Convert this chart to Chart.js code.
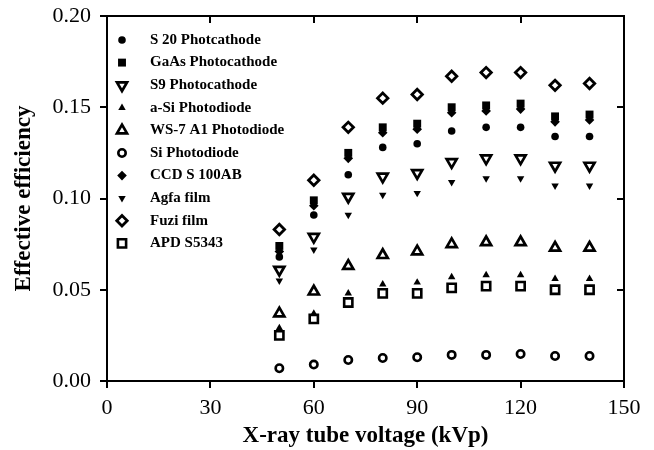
<!DOCTYPE html>
<html>
<head>
<meta charset="utf-8">
<script src="https://cdn.jsdelivr.net/npm/chart.js@4/dist/chart.umd.min.js"></script>
<style>
html,body{margin:0;padding:0;background:#fff;}
canvas{display:block;}
</style>
</head>
<body>
<canvas id="c" width="654" height="450"></canvas>
<script>
// ---- data ----
const voltages = [50, 60, 70, 80, 90, 100, 110, 120, 130, 140];
const seriesNames = ["S 20 Photcathode", "GaAs Photocathode", "S9 Photocathode", "a-Si Photodiode",
  "WS-7 A1 Photodiode", "Si Photodiode", "CCD S 100AB", "Agfa film", "Fuzi film", "APD S5343"];
const s20  = [0.068, 0.091, 0.113, 0.128, 0.130, 0.137, 0.139, 0.139, 0.134, 0.134];
const gaas = [0.074, 0.099, 0.125, 0.139, 0.141, 0.150, 0.151, 0.152, 0.145, 0.146];
const s9   = [0.061, 0.079, 0.101, 0.112, 0.114, 0.120, 0.122, 0.122, 0.118, 0.118];
const aSi  = [0.029, 0.037, 0.048, 0.053, 0.054, 0.057, 0.058, 0.058, 0.056, 0.056];
const ws7  = [0.037, 0.049, 0.063, 0.069, 0.071, 0.075, 0.076, 0.076, 0.073, 0.073];
const siPd = [0.007, 0.009, 0.0115, 0.0126, 0.013, 0.0143, 0.0143, 0.0148, 0.0137, 0.0137];
const ccd  = [0.071, 0.096, 0.122, 0.136, 0.138, 0.147, 0.148, 0.149, 0.142, 0.143];
const agfa = [0.055, 0.072, 0.091, 0.102, 0.103, 0.109, 0.111, 0.111, 0.107, 0.107];
const fuzi = [0.083, 0.110, 0.139, 0.155, 0.157, 0.167, 0.169, 0.169, 0.162, 0.163];
const apd  = [0.025, 0.034, 0.043, 0.048, 0.048, 0.051, 0.052, 0.052, 0.050, 0.050];
const xTicks = [0, 30, 60, 90, 120, 150];
const yTicks = [0.00, 0.05, 0.10, 0.15, 0.20];

const seriesValues = [s20, gaas, s9, aSi, ws7, siPd, ccd, agfa, fuzi, apd];
// marker styles: [pointStyle, radius, rotation, filled, borderWidth]
const styles = [
  ['circle', 3.8, 0, true, 0],
  ['rect', 5.6, 0, true, 0],
  ['triangle', 5.8, 180, false, 2.7],
  ['triangle', 4.3, 0, true, 0],
  ['triangle', 5.8, 0, false, 2.7],
  ['circle', 3.7, 0, false, 2.6],
  ['rectRot', 4.8, 0, true, 0],
  ['triangle', 4.3, 180, true, 0],
  ['rectRot', 5.2, 0, false, 2.8],
  ['rect', 5.8, 0, false, 2.6]
];

const datasets = seriesNames.map((name, i) => {
  const st = styles[i];
  return {
    label: name,
    data: voltages.map((v, j) => ({x: v, y: seriesValues[i][j]})),
    pointStyle: st[0],
    pointRadius: st[1],
    pointHoverRadius: st[1],
    rotation: st[2],
    backgroundColor: st[3] ? '#000' : '#fff',
    borderColor: '#000',
    borderWidth: st[4],
    showLine: false
  };
});

const TICK = 7;
const framePlugin = {
  id: 'frame',
  afterDraw(chart) {
    const ctx = chart.ctx;
    const a = chart.chartArea;
    const xs = chart.scales.x, ys = chart.scales.y;
    ctx.save();
    ctx.strokeStyle = '#000';
    ctx.lineWidth = 2;
    ctx.strokeRect(a.left, a.top, a.right - a.left, a.bottom - a.top);
    ctx.beginPath();
    xs.ticks.forEach(t => {
      const px = Math.round(xs.getPixelForValue(t.value));
      ctx.moveTo(px, a.bottom); ctx.lineTo(px, a.bottom + TICK);
      ctx.moveTo(px, a.top); ctx.lineTo(px, a.top + TICK);
    });
    ys.ticks.forEach(t => {
      const py = Math.round(ys.getPixelForValue(t.value));
      ctx.moveTo(a.left, py); ctx.lineTo(a.left - TICK, py);
      ctx.moveTo(a.right, py); ctx.lineTo(a.right - TICK, py);
    });
    ctx.stroke();

    // legend
    const lx = 122, tx = 150, ly0 = 40, dy = 22.6;
    ctx.font = 'bold 15px "Liberation Serif", "Times New Roman", serif';
    ctx.textBaseline = 'middle';
    ctx.textAlign = 'left';
    chart.data.datasets.forEach((ds, i) => {
      const y = ly0 + i * dy;
      ctx.fillStyle = ds.backgroundColor;
      ctx.strokeStyle = ds.borderColor;
      ctx.lineWidth = ds.borderWidth;
      Chart.helpers.drawPoint(ctx, {
        pointStyle: ds.pointStyle,
        radius: ds.pointRadius,
        rotation: ds.rotation,
        borderWidth: ds.borderWidth
      }, lx, y);
      ctx.fillStyle = '#000';
      ctx.fillText(ds.label, tx, y);
    });
    ctx.restore();
  }
};

const tickFont = {family: '"Liberation Serif", "Times New Roman", serif', size: 22};
const titleFont = {family: '"Liberation Serif", "Times New Roman", serif', size: 23, weight: 'bold'};

new Chart(document.getElementById('c'), {
  type: 'scatter',
  data: {datasets},
  plugins: [framePlugin],
  options: {
    responsive: false,
    animation: false,
    devicePixelRatio: 1,
    layout: {padding: {top: 16, right: 30, left: 0, bottom: 0}},
    plugins: {legend: {display: false}, tooltip: {enabled: false}},
    scales: {
      x: {
        type: 'linear', min: 0, max: 150,
        afterBuildTicks: s => { s.ticks = xTicks.map(v => ({value: v})); },
        afterFit: s => { s.height = 69; s.paddingLeft = 0; s.paddingRight = 0; },
        grid: {display: false, drawTicks: false},
        border: {display: false},
        ticks: {color: '#000', font: tickFont, padding: 14, maxRotation: 0, callback: v => String(v)},
        title: {display: true, text: 'X-ray tube voltage (kVp)', color: '#000', font: titleFont, padding: {top: 0, bottom: 0}}
      },
      y: {
        type: 'linear', min: 0, max: 0.20,
        afterBuildTicks: s => { s.ticks = yTicks.map(v => ({value: v})); },
        afterFit: s => { s.width = 107; s.paddingTop = 0; s.paddingBottom = 0; },
        grid: {display: false, drawTicks: false},
        border: {display: false},
        ticks: {color: '#000', font: tickFont, padding: 16, callback: v => v.toFixed(2)},
        title: {display: true, text: 'Effective efficiency', color: '#000', font: titleFont, padding: {top: 10, bottom: 0}}
      }
    }
  }
});
</script>
</body>
</html>
